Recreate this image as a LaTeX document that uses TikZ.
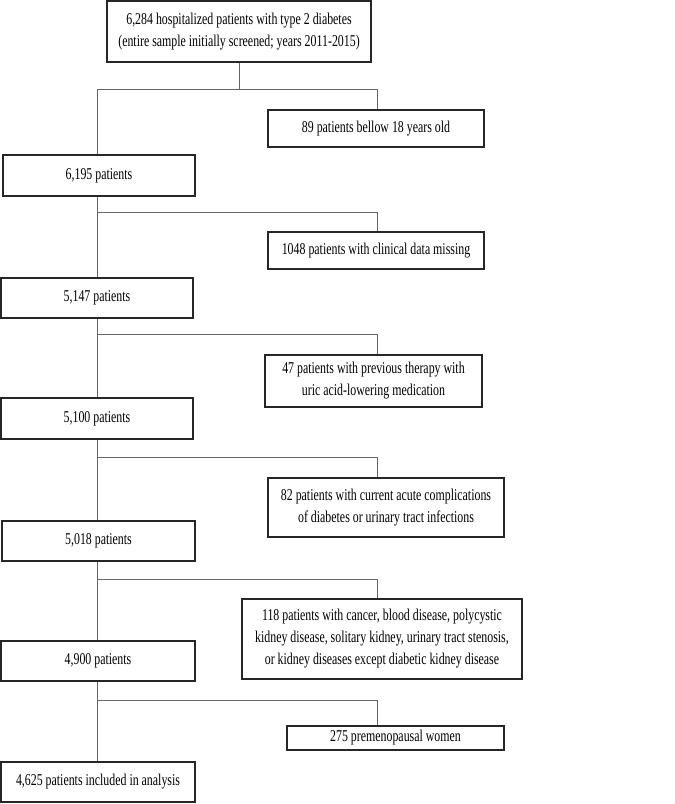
\documentclass[tikz,border=0pt]{standalone}
\usepackage{fontspec}
\setmainfont[FakeStretch=0.72]{Liberation Serif}
\begin{document}
\begin{tikzpicture}[x=1pt,y=-1pt,
  box/.style={draw=black!85, line width=1.1pt, inner sep=0pt, align=center,
    font=\fontsize{16.5}{22}\selectfont},
  conn/.style={draw=black!60, line width=0.9pt}]
\useasboundingbox (0,0) rectangle (675,804);
% main boxes
\node[box, minimum width=264pt, minimum height=61pt] (top) at (239,31.5)
  {6,284 hospitalized patients with type 2 diabetes\\(entire sample initially screened; years 2011-2015)};
\node[box, minimum width=192pt, minimum height=41pt] (b1) at (99,175.5) {6,195 patients};
\node[box, minimum width=192pt, minimum height=40pt] (b2) at (97,298) {5,147 patients};
\node[box, minimum width=192pt, minimum height=41pt] (b3) at (97,418.5) {5,100 patients};
\node[box, minimum width=193pt, minimum height=40pt] (b4) at (98.5,541) {5,018 patients};
\node[box, minimum width=194pt, minimum height=40pt] (b5) at (98,661) {4,900 patients};
\node[box, minimum width=194pt, minimum height=40pt] (b6) at (98,782) {4,625 patients included in analysis};
% exclusion boxes
\node[box, minimum width=216pt, minimum height=37pt] (e1) at (376,128.5) {89 patients bellow 18 years old};
\node[box, minimum width=216pt, minimum height=37pt] (e2) at (376,250.5) {1048 patients with clinical data missing};
\node[box, minimum width=217pt, minimum height=52pt] (e3) at (373.5,381)
  {47 patients with previous therapy with\\uric acid-lowering medication};
\node[box, minimum width=236pt, minimum height=59pt] (e4) at (386,507.5)
  {82 patients with current acute complications\\of diabetes or urinary tract infections};
\node[box, minimum width=280pt, minimum height=80pt] (e5) at (382,639)
  {118 patients with cancer, blood disease, polycystic\\kidney disease, solitary kidney, urinary tract stenosis,\\or kidney diseases except diabetic kidney disease};
\node[box, minimum width=217pt, minimum height=24pt] (e6) at (395.5,738) {275 premenopausal women};
% junction coordinates
\coordinate (j1) at (97.5,89);
\coordinate (j2) at (97.5,212);
\coordinate (j3) at (97.5,334);
\coordinate (j4) at (97.5,457);
\coordinate (j5) at (97.5,579);
\coordinate (j6) at (97.5,700);
\coordinate (rx) at (377,0);
% connectors
\draw[conn] (top.south) -- (top.south |- j1);
\draw[conn] (j1) -- (j1 -| rx) -- (e1.north -| rx);
\draw[conn] (j1) -- (b1.north -| j1);
\draw[conn] (b1.south -| j2) -- (b2.north -| j2);
\draw[conn] (j2) -- (j2 -| rx) -- (e2.north -| rx);
\draw[conn] (b2.south -| j3) -- (b3.north -| j3);
\draw[conn] (j3) -- (j3 -| rx) -- (e3.north -| rx);
\draw[conn] (b3.south -| j4) -- (b4.north -| j4);
\draw[conn] (j4) -- (j4 -| rx) -- (e4.north -| rx);
\draw[conn] (b4.south -| j5) -- (b5.north -| j5);
\draw[conn] (j5) -- (j5 -| rx) -- (e5.north -| rx);
\draw[conn] (b5.south -| j6) -- (b6.north -| j6);
\draw[conn] (j6) -- (j6 -| rx) -- (e6.north -| rx);
\end{tikzpicture}
\end{document}
